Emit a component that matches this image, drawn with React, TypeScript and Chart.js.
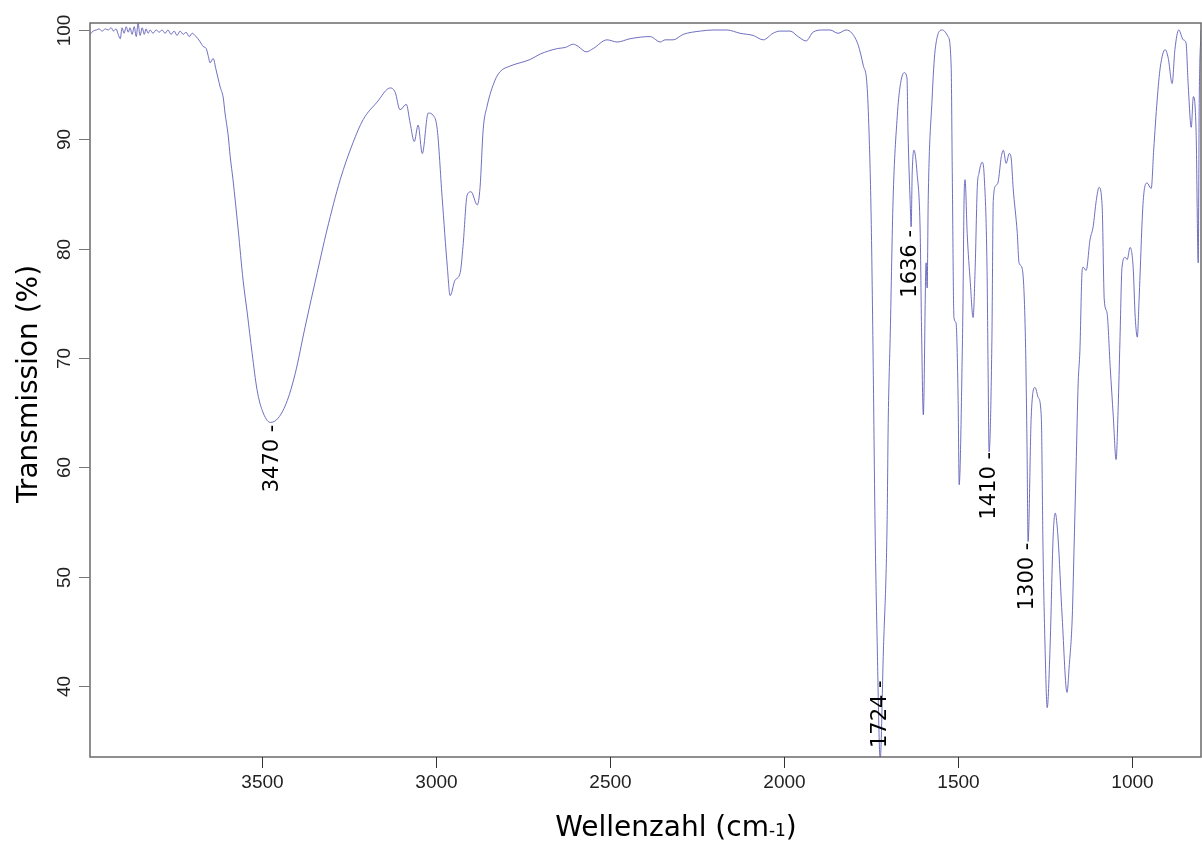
import React, { useEffect, useRef } from "react";
import { Chart, registerables } from "chart.js";

Chart.register(...registerables);

const wavenumbers: number[] = [
  3995, 3986, 3977, 3969, 3960, 3951, 3943, 3934, 3928, 3920, 3914, 3908, 3903, 3897, 3891, 3885, 3880, 3874, 3868, 3862,
  3857, 3851, 3845, 3839, 3834, 3828, 3822, 3814, 3805, 3796, 3788, 3779, 3771, 3762, 3753, 3745, 3736, 3727, 3719, 3710,
  3701, 3693, 3678, 3670, 3661, 3655, 3650, 3641, 3633, 3627, 3621, 3612, 3607, 3598, 3592, 3584, 3569, 3555, 3543, 3529,
  3515, 3500, 3477, 3454, 3428, 3405, 3377, 3342, 3314, 3276, 3239, 3210, 3170, 3132, 3118, 3104, 3086, 3075, 3063, 3052,
  3040, 3023, 3009, 2997, 2983, 2968, 2960, 2946, 2931, 2923, 2911, 2900, 2882, 2874, 2865, 2854, 2831, 2816, 2788, 2759,
  2730, 2701, 2652, 2629, 2606, 2592, 2569, 2549, 2509, 2480, 2443, 2385, 2356, 2342, 2319, 2290, 2241, 2204, 2164, 2127,
  2089, 2060, 2032, 2012, 1983, 1960, 1937, 1917, 1888, 1868, 1845, 1822, 1805, 1787, 1773, 1762, 1756, 1750, 1744, 1739,
  1733, 1724, 1715, 1704, 1701, 1695, 1687, 1675, 1667, 1655, 1647, 1644, 1638, 1635, 1632, 1627, 1618, 1609, 1605, 1600,
  1592, 1589, 1586, 1575, 1566, 1546, 1529, 1520, 1517, 1512, 1506, 1500, 1497, 1488, 1486, 1483, 1480, 1474, 1465, 1457,
  1451, 1445, 1440, 1431, 1425, 1417, 1414, 1411, 1403, 1399, 1391, 1385, 1376, 1370, 1362, 1353, 1347, 1342, 1330, 1325,
  1316, 1307, 1302, 1299, 1290, 1279, 1270, 1261, 1256, 1250, 1244, 1236, 1227, 1221, 1213, 1201, 1187, 1181, 1172, 1167,
  1161, 1155, 1150, 1144, 1141, 1132, 1121, 1112, 1103, 1095, 1086, 1080, 1072, 1063, 1054, 1046, 1040, 1035, 1029, 1020,
  1014, 1006, 997, 991, 985, 980, 968, 957, 945, 938, 928, 919, 905, 896, 885, 877, 866, 853, 845, 839,
  830, 824, 816, 810, 807, 802,
];

const transmission: number[] = [
  99.6, 99.9, 100.0, 100.1, 99.9, 100.1, 100.0, 100.2, 99.9, 100.1, 99.6, 99.2, 100.2, 99.7, 100.3, 99.8, 100.2, 99.6, 100.3, 99.4,
  100.6, 99.5, 100.2, 99.6, 100.1, 99.7, 100.0, 99.7, 100.0, 99.8, 100.0, 99.7, 100.0, 99.6, 99.9, 99.5, 99.9, 99.6, 99.8, 99.4,
  99.7, 99.5, 98.9, 98.5, 98.3, 97.6, 97.0, 97.4, 96.4, 95.6, 94.8, 93.8, 92.4, 90.4, 88.4, 86.3, 81.7, 77.1, 74.1, 70.4,
  67.1, 65.2, 64.1, 64.5, 66.1, 68.6, 72.8, 77.8, 81.7, 86.3, 89.7, 91.8, 93.4, 94.7, 94.3, 92.7, 93.2, 91.5, 89.8, 91.3,
  88.7, 92.4, 92.2, 90.9, 84.7, 78.3, 75.7, 77.1, 77.8, 80.2, 84.9, 85.2, 84.0, 85.6, 90.9, 93.0, 95.4, 96.2, 96.7, 97.0,
  97.3, 97.8, 98.3, 98.4, 98.7, 98.5, 98.0, 98.3, 99.1, 98.9, 99.2, 99.4, 98.9, 99.1, 99.1, 99.6, 99.9, 100.0, 100.0, 99.7,
  99.5, 99.1, 99.7, 99.9, 99.9, 99.4, 99.0, 99.8, 100.0, 100.0, 99.7, 100.0, 99.7, 98.6, 96.8, 95.0, 90.6, 82.9, 69.2, 55.2,
  44.5, 33.3, 43.0, 55.2, 64.0, 72.3, 84.4, 92.1, 94.8, 96.1, 95.6, 90.6, 84.4, 82.0, 86.9, 89.0, 86.9, 81.4, 72.3, 64.8,
  78.7, 76.4, 84.4, 93.6, 98.2, 100.0, 99.4, 96.6, 87.5, 73.7, 73.2, 66.1, 58.4, 70.7, 75.3, 84.4, 86.3, 81.4, 76.9, 73.7,
  78.3, 85.6, 86.9, 87.9, 86.6, 78.3, 69.2, 61.4, 71.5, 84.4, 85.8, 86.1, 88.4, 89.0, 87.8, 88.7, 88.1, 85.6, 81.4, 78.7,
  78.2, 72.3, 62.0, 53.2, 64.6, 67.3, 66.4, 64.6, 52.4, 43.3, 38.0, 43.3, 53.6, 55.8, 53.6, 46.3, 39.4, 41.7, 46.3, 52.4,
  60.0, 67.7, 70.7, 77.8, 78.3, 78.0, 80.8, 82.0, 84.4, 85.6, 83.8, 75.3, 74.1, 69.2, 64.6, 60.7, 65.5, 71.5, 78.3, 79.2,
  79.0, 80.1, 78.3, 73.7, 71.9, 75.3, 84.4, 86.0, 85.5, 89.0, 93.6, 96.6, 98.2, 97.4, 95.1, 98.2, 100.0, 99.1, 98.8, 95.1,
  91.1, 93.9, 90.6, 78.7, 93.6, 100.0,
];

const xTicks: number[] = [3500, 3000, 2500, 2000, 1500, 1000];
const yTicks: number[] = [40, 50, 60, 70, 80, 90, 100];

const peakLabels: string[] = ["3470", "1724", "1636", "1410", "1300"];
const peakPositions: number[] = [3470, 1724, 1636, 1410, 1300];
const peakLabelLevels: number[] = [63.9, 40.5, 81.7, 61.4, 53.1];

const X_MIN = 802;
const X_MAX = 3995;
const Y_MIN = 33.49;
const Y_MAX = 100.64;

const framePlugin = {
  id: "frame",
  afterDatasetsDraw(chart: any) {
    const { ctx, chartArea } = chart;
    const xs = chart.scales.x;
    const ys = chart.scales.y;
    const { left, right, top, bottom } = chartArea;
    ctx.save();

    // peak annotations
    ctx.fillStyle = "#000";
    ctx.font = '21px "DejaVu Sans", sans-serif';
    ctx.textAlign = "right";
    ctx.textBaseline = "middle";
    peakLabels.forEach((lab, i) => {
      const px = xs.getPixelForValue(peakPositions[i]);
      const py = ys.getPixelForValue(peakLabelLevels[i]);
      ctx.save();
      ctx.translate(px, py);
      ctx.rotate(-Math.PI / 2);
      ctx.fillText(lab + " -", 0, 0);
      ctx.restore();
    });

    // box
    ctx.strokeStyle = "#6a6a6a";
    ctx.lineWidth = 1.5;
    ctx.strokeRect(left, top, right - left, bottom - top);

    // x ticks
    ctx.strokeStyle = "#333";
    ctx.lineWidth = 1;
    ctx.fillStyle = "#222";
    ctx.font = '19px "Liberation Sans", Arial, sans-serif';
    ctx.textAlign = "center";
    ctx.textBaseline = "middle";
    xTicks.forEach((t) => {
      const px = Math.round(xs.getPixelForValue(t)) + 0.5;
      ctx.beginPath();
      ctx.moveTo(px, bottom);
      ctx.lineTo(px, bottom + 11);
      ctx.stroke();
      ctx.fillText(String(t), px, bottom + 26);
    });

    // y ticks
    ctx.strokeStyle = "#777";
    yTicks.forEach((t) => {
      const py = Math.round(ys.getPixelForValue(t)) + 0.5;
      ctx.beginPath();
      ctx.moveTo(left - 11, py);
      ctx.lineTo(left, py);
      ctx.stroke();
      ctx.save();
      ctx.translate(left - 25, py);
      ctx.rotate(-Math.PI / 2);
      ctx.fillText(String(t), 0, 0);
      ctx.restore();
    });

    // y title
    ctx.fillStyle = "#000";
    ctx.font = '28px "DejaVu Sans", sans-serif';
    ctx.save();
    ctx.translate(30, 384);
    ctx.rotate(-Math.PI / 2);
    ctx.textAlign = "center";
    ctx.fillText("Transmission (%)", 0, 0);
    ctx.restore();

    // x title with small "-1"
    const big = '28px "DejaVu Sans", sans-serif';
    const small = '17px "DejaVu Sans", sans-serif';
    const p1 = "Wellenzahl (cm";
    const p2 = "-1";
    const p3 = ")";
    ctx.font = big;
    const w1 = ctx.measureText(p1).width;
    const w3 = ctx.measureText(p3).width;
    ctx.font = small;
    const w2 = ctx.measureText(p2).width;
    const total = w1 + w2 + w3;
    const cx = 676;
    const base = 836;
    let x0 = cx - total / 2;
    ctx.textAlign = "left";
    ctx.textBaseline = "alphabetic";
    ctx.font = big;
    ctx.fillText(p1, x0, base);
    x0 += w1;
    ctx.font = small;
    ctx.fillText(p2, x0, base);
    x0 += w2;
    ctx.font = big;
    ctx.fillText(p3, x0, base);

    ctx.restore();
  },
};

export default function App() {
  const canvasRef = useRef<HTMLCanvasElement | null>(null);

  useEffect(() => {
    if (!canvasRef.current) return;
    const points = wavenumbers.map((w, i) => ({ x: w, y: transmission[i] }));
    const chart = new Chart(canvasRef.current, {
      type: "line",
      data: {
        datasets: [
          {
            data: points,
            borderColor: "rgba(95, 95, 185, 0.9)",
            borderWidth: 1,
            pointRadius: 0,
            cubicInterpolationMode: "monotone",
            fill: false,
          },
        ],
      },
      options: {
        animation: false,
        responsive: false,
        layout: { padding: { left: 90, top: 23, right: 1, bottom: 86 } },
        scales: {
          x: { type: "linear", reverse: true, min: X_MIN, max: X_MAX, display: false },
          y: { type: "linear", min: Y_MIN, max: Y_MAX, display: false },
        },
        plugins: { legend: { display: false }, tooltip: { enabled: false } },
      },
      plugins: [framePlugin],
    });
    return () => chart.destroy();
  }, []);

  return (
    <div style={{ position: "absolute", left: 0, top: 0, width: 1202, height: 843, background: "#fff" }}>
      <canvas ref={canvasRef} width={1202} height={843} />
    </div>
  );
}
